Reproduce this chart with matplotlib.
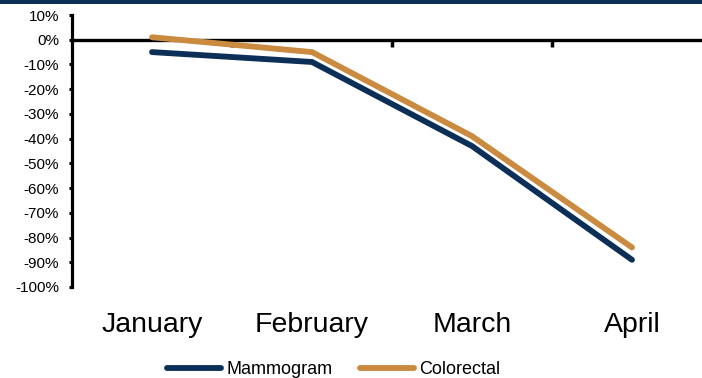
import matplotlib
matplotlib.use("Agg")
import matplotlib.pyplot as plt
from matplotlib.ticker import FuncFormatter, FixedLocator
from matplotlib.patches import Rectangle

plt.rcParams["font.family"] = ["Liberation Sans", "DejaVu Sans"]
plt.rcParams["axes.unicode_minus"] = False

months = ["January", "February", "March", "April"]
mammogram = [-5, -9, -43, -89]
colorectal = [1, -5, -39, -84]
y_ticks = [10, 0, -10, -20, -30, -40, -50, -60, -70, -80, -90, -100]

NAVY = "#0B2F57"
GOLD = "#CA8A40"

W, H = 702, 378
fig = plt.figure(figsize=(W / 100, H / 100), dpi=100)

# navy banner across the top edge
fig.patches.append(Rectangle((0, 1 - 3.5 / H), 1, 3.5 / H, transform=fig.transFigure,
                             facecolor=NAVY, edgecolor="none", zorder=0))

left, right, top, bottom = 72, 712, 15, 287
ax = fig.add_axes([left / W, 1 - bottom / H, (right - left) / W, (bottom - top) / H])

x = list(range(len(months)))
ax.plot(x, mammogram, color=NAVY, lw=4.2, solid_capstyle="round",
        solid_joinstyle="miter", label="Mammogram", zorder=3)
ax.plot(x, colorectal, color=GOLD, lw=4.2, solid_capstyle="round",
        solid_joinstyle="miter", label="Colorectal", zorder=3)

ymin, ymax = -100, 10
ax.set_xlim(-0.5, len(months) - 0.5)
ax.set_ylim(ymin, ymax)

for side in ("top", "right", "bottom"):
    ax.spines[side].set_visible(False)
ax.spines["left"].set_linewidth(2.3)

ax.yaxis.set_major_locator(FixedLocator(y_ticks))
ax.yaxis.set_major_formatter(FuncFormatter(lambda v, _: f"{v:.0f}%"))
ax.tick_params(axis="y", direction="out", length=2.2, width=2.2, pad=7,
               labelsize=11, colors="black")

ax.set_xticks(x)
ax.set_xticklabels(months)
ax.tick_params(axis="x", length=0, pad=18, labelsize=20.5)

# zero line with category divider ticks
zero_frac = (0 - ymin) / (ymax - ymin)
sec = ax.secondary_xaxis(zero_frac)
sec.spines["bottom"].set_linewidth(2.4)
sec.spines["top"].set_linewidth(2.4)
sec.xaxis.set_ticks_position("bottom")
sec.set_xticks([i + 0.5 for i in x[:-1]])
sec.tick_params(axis="x", direction="out", length=5, width=2.5, labelbottom=False,
                labeltop=False)

leg = ax.legend(loc="center", bbox_to_anchor=(333.5 / W, 1 - 370 / H),
                bbox_transform=fig.transFigure, ncol=2, frameon=False,
                fontsize=13, handlelength=3.0, handletextpad=0.28,
                columnspacing=1.5, borderpad=0)

fig.savefig("out.png", dpi=100)
